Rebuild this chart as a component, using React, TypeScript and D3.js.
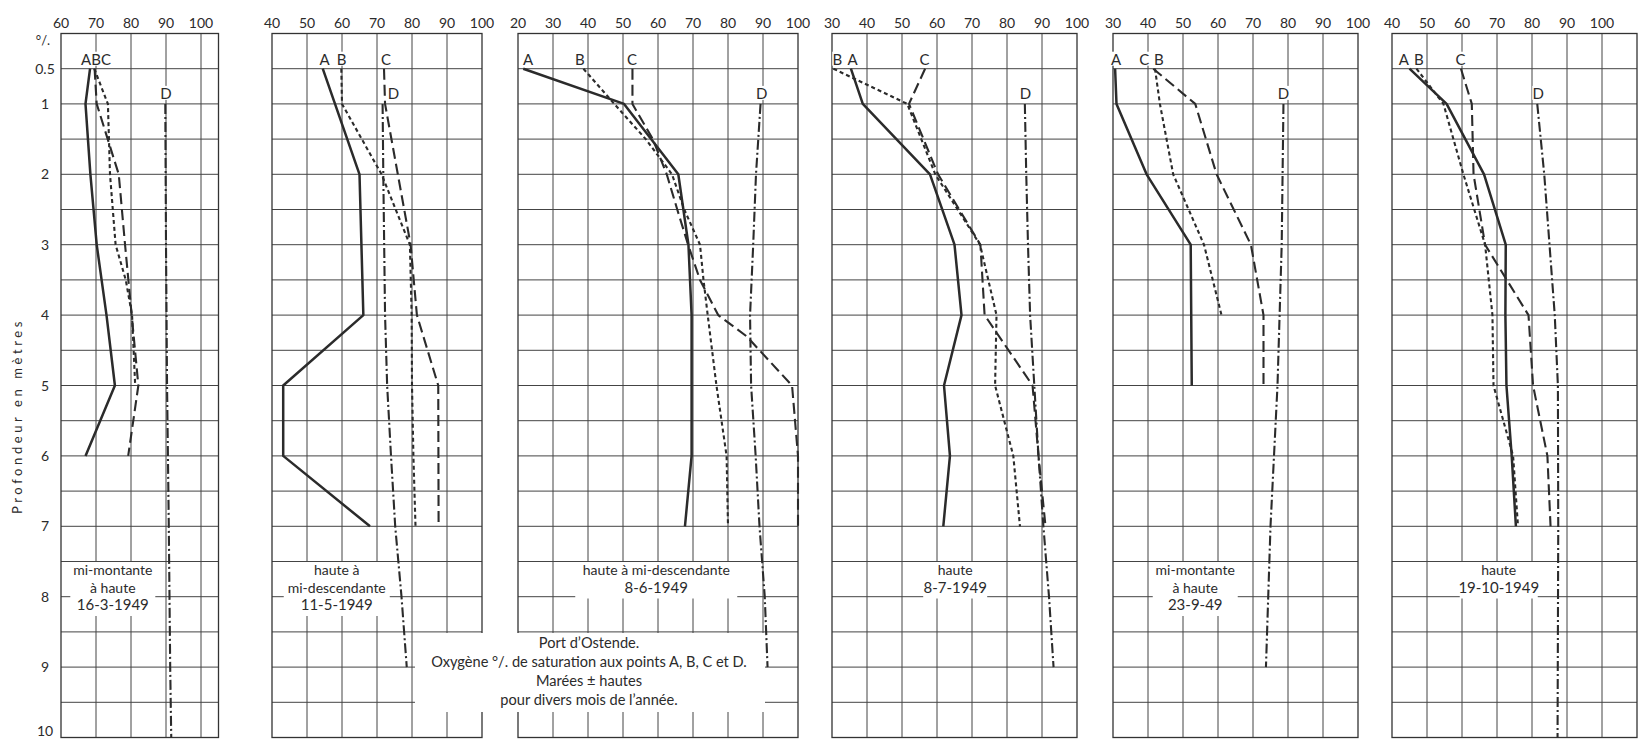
import React from 'react';
import * as d3 from 'd3';

type Pt = [number, number]; // [depth m, oxygen %]

// ---------- data ----------
const depthLabels = ['0.5', '1', '2', '3', '4', '5', '6', '7', '8', '9', '10'];
const depthLabelValues = [0.5, 1, 2, 3, 4, 5, 6, 7, 8, 9, 10];
const xTickValues = [20, 30, 40, 50, 60, 70, 80, 90, 100];

// panel value ranges [min, max]
const panelRanges: [number, number][] = [[60, 105], [40, 100], [20, 100], [30, 100], [30, 100], [40, 110]];

// 16-3-1949
const p1A: Pt[] = [[0.5, 68.3], [1, 67], [2, 68.4], [3, 70.2], [4, 73], [5, 75.4], [6, 67]];
const p1B: Pt[] = [[0.5, 69.5], [1, 73.4], [2, 74], [3, 75.6], [3.5, 78.5], [4, 80.3], [5, 81.2]];
const p1C: Pt[] = [[0.5, 69.6], [1, 70.2], [2, 76.5], [3, 78.3], [4, 80.2], [5, 82.1], [6, 79.2]];
const p1D: Pt[] = [[1, 89.8], [3, 90], [5, 90.3], [7, 90.8], [9, 91.2], [10, 91.5]];
// 11-5-1949
const p2A: Pt[] = [[0.5, 54.5], [2, 65], [4, 66.1], [5, 43.2], [6, 43.2], [7, 68]];
const p2B: Pt[] = [[0.5, 59.8], [1, 60], [2, 71.3], [3, 79.4], [4, 79.9], [5, 80], [6, 80.4], [7, 81]];
const p2C: Pt[] = [[0.5, 72], [1, 72.3], [3, 79.6], [4, 81.4], [5, 87.5], [7, 87.6]];
const p2D: Pt[] = [[1, 71.6], [2, 71.8], [4, 72.3], [5, 72.9], [6, 74], [7, 75.2], [8, 77], [9, 78.5]];
// 8-6-1949
const p3A: Pt[] = [[0.5, 21.5], [1, 50.3], [2, 65.8], [3, 68.7], [4, 69.6], [6, 69.6], [7, 67.7]];
const p3B: Pt[] = [[0.5, 38.7], [1, 47.5], [1.5, 56.5], [2, 64], [2.5, 67.5], [3, 72], [3.5, 73], [4, 74.2], [5, 76.7], [6, 79.6], [7, 80]];
const p3C: Pt[] = [[0.5, 52.7], [1, 52.7], [1.5, 58.5], [2, 62.5], [2.5, 65.5], [3, 68.6], [3.5, 72], [4, 77.2], [4.3, 85.3], [5, 98.3], [6, 100], [7, 100]];
const p3D: Pt[] = [[1, 89.3], [2, 88], [3, 87.2], [4, 86.3], [5, 86.6], [6, 87.9], [7, 89], [8, 90.5], [9, 91.3]];
// 8-7-1949
const p4A: Pt[] = [[0.5, 35.4], [1, 38.8], [2, 58], [3, 65], [4, 67], [5, 62], [6, 63.7], [7, 61.8]];
const p4B: Pt[] = [[0.5, 30.4], [1, 51.5], [2, 59.5], [3, 72.3], [4, 77], [5, 76.6], [6, 81.8], [7, 83.7]];
const p4C: Pt[] = [[0.5, 56.6], [1, 52], [2, 60.3], [3, 72.4], [4, 73.6], [5, 87.3], [6, 89], [7, 91]];
const p4D: Pt[] = [[1, 85.1], [2, 85.5], [3, 86], [4, 86.6], [5, 87.8], [6, 89], [7, 90.4], [8, 92], [9, 93.3]];
// 23-9-49
const p5A: Pt[] = [[0.5, 30.6], [1, 31], [2, 39.6], [3, 52.2], [5, 52.5]];
const p5B: Pt[] = [[0.5, 42], [1, 43.4], [2, 47.2], [3, 56], [4, 61]];
const p5C: Pt[] = [[0.5, 41.5], [1, 53.5], [2, 59.6], [3, 69.4], [4, 73], [5, 73]];
const p5D: Pt[] = [[1, 78.7], [3, 78.2], [5, 77], [7, 75], [9, 73.7]];
// 19-10-1949
const p6A: Pt[] = [[0.5, 45], [1, 55.6], [2, 66.3], [3, 72.5], [4, 72.4], [5, 72.7], [6, 74.2], [7, 75.4]];
const p6B: Pt[] = [[0.5, 47], [1, 54.7], [2, 60.4], [3, 66.6], [4, 68.7], [5, 69], [6, 74.6], [7, 76]];
const p6C: Pt[] = [[0.5, 59.7], [1, 62.8], [2, 63.3], [3, 66.6], [4, 79], [5, 80.3], [6, 84.4], [7, 85.3]];
const p6D: Pt[] = [[1, 81.5], [2, 83.5], [3, 85], [4, 86.5], [5, 87.4], [7, 87.5], [10, 87.3]];

const seriesA = [p1A, p2A, p3A, p4A, p5A, p6A];
const seriesB = [p1B, p2B, p3B, p4B, p5B, p6B];
const seriesC = [p1C, p2C, p3C, p4C, p5C, p6C];
const seriesD = [p1D, p2D, p3D, p4D, p5D, p6D];

// point labels: [text, value] on the top row; D label value on second row
const topLabels: [string, number][][] = [
  [['ABC', 70]],
  [['A', 55], ['B', 59.9], ['C', 72.6]],
  [['A', 22.9], ['B', 37.7], ['C', 52.6]],
  [['B', 31.5], ['A', 35.9], ['C', 56.4]],
  [['A', 30.9], ['C', 38.9], ['B', 43.1]],
  [['A', 43.4], ['B', 47.7], ['C', 59.6]],
];
const dLabelValues = [90, 74.7, 89.6, 85.3, 78.7, 81.8];

const tideTexts: string[][] = [
  ['mi-montante', 'à haute', '16-3-1949'],
  ['haute à', 'mi-descendante', '11-5-1949'],
  ['haute à mi-descendante', '8-6-1949'],
  ['haute', '8-7-1949'],
  ['mi-montante', 'à haute', '23-9-49'],
  ['haute', '19-10-1949'],
];
const tideCenterValues = [74.8, 58.5, 59.5, 65.2, 53.5, 70.5];

const captionLines = [
  'Port d\u2019Ostende.',
  'Oxygène °/. de saturation aux points A, B, C et D.',
  'Marées ± hautes',
  'pour divers mois de l\u2019année.',
];

// ---------- layout ----------
const W = 1640;
const H = 741;
const PX_PER_UNIT = 3.5;
const panelLefts = [61, 272, 518, 832, 1113, 1392];
const FONT = 'Lato, "Open Sans", sans-serif';
const INK = '#2b2b2b';

const y = d3.scaleLinear().domain([0, 10]).range([33.5, 737.5]);

const styles = {
  A: { dash: undefined as string | undefined, width: 2.5 },
  B: { dash: '4,3', width: 2.1 },
  C: { dash: '11,5', width: 2.1 },
  D: { dash: '10,3,2,3', width: 2.1 },
};

function Panel({ i }: { i: number }) {
  const [mn, mx] = panelRanges[i];
  const left = panelLefts[i];
  const x = d3.scaleLinear().domain([mn, mx]).range([left, left + (mx - mn) * PX_PER_UNIT]);
  const line = d3
    .line<Pt>()
    .x((p) => x(p[1]))
    .y((p) => y(p[0]));
  const vLines = xTickValues.filter((v) => v > mn && v < mx);
  const hLines = d3.range(1, 20).map((k) => k * 0.5);
  const ticks = xTickValues.filter((v) => v >= mn && v <= Math.min(mx, 100));

  const tide = tideTexts[i];
  const tFs = 14;
  const tBase0 = 575;
  const tStep = 17.5;
  const tW = d3.max(tide, (s) => s.length)! * tFs * 0.5 + 8;
  const tx = x(tideCenterValues[i]);
  const tTop = tBase0 - 13;
  const tBot = tBase0 + (tide.length - 1) * tStep + 6;

  const series: [Pt[], keyof typeof styles][] = [
    [seriesD[i], 'D'],
    [seriesC[i], 'C'],
    [seriesB[i], 'B'],
    [seriesA[i], 'A'],
  ];

  return (
    <g>
      {/* grid */}
      {vLines.map((v) => (
        <line key={'v' + v} x1={x(v)} x2={x(v)} y1={y(0)} y2={y(10)} stroke="#444" strokeWidth={1} />
      ))}
      {hLines.map((d) => (
        <line key={'h' + d} x1={x(mn)} x2={x(mx)} y1={y(d)} y2={y(d)} stroke="#444" strokeWidth={1} />
      ))}
      <rect x={x(mn)} y={y(0)} width={x(mx) - x(mn)} height={y(10) - y(0)} fill="none" stroke="#333" strokeWidth={1.3} />
      {/* tick labels */}
      {ticks.map((v) => (
        <text key={'t' + v} x={x(v)} y={28} textAnchor="middle" fontSize={14} fill={INK} fontFamily={FONT}>
          {v}
        </text>
      ))}
      {/* tide box */}
      <rect x={tx - tW / 2} y={tTop} width={tW} height={tBot - tTop} fill="#fff" />
      {/* curves */}
      {series.map(([data, k]) => (
        <path
          key={k}
          d={line(data) || ''}
          fill="none"
          stroke={INK}
          strokeWidth={styles[k].width}
          strokeDasharray={styles[k].dash}
          strokeLinejoin="round"
        />
      ))}
      {/* point labels */}
      {topLabels[i].map(([t, v]) => (
        <g key={'l' + t}>
          <rect x={x(v) - t.length * 5} y={y(0.5) - 17} width={t.length * 10} height={14} fill="#fff" />
          <text x={x(v)} y={y(0.5) - 4} textAnchor="middle" fontSize={15} fill={INK} fontFamily={FONT}>
            {t}
          </text>
        </g>
      ))}
      <rect x={x(dLabelValues[i]) - 6} y={y(1) - 18} width={12} height={14} fill="#fff" />
      <text x={x(dLabelValues[i])} y={y(1) - 5} textAnchor="middle" fontSize={15} fill={INK} fontFamily={FONT}>
        D
      </text>
      {tide.map((s, k) => (
        <text
          key={'tt' + k}
          x={tx}
          y={tBase0 + k * tStep}
          textAnchor="middle"
          fontSize={k === tide.length - 1 ? 15 : tFs}
          fill={INK}
          fontFamily={FONT}
        >
          {s}
        </text>
      ))}
    </g>
  );
}

export default function App() {
  const capCx = 589;
  const capBase = 648;
  const capStep = 19;
  return (
    <svg width={W} height={H} style={{ position: 'absolute', left: 0, top: 0, background: '#fff' }}>
      <rect x={0} y={0} width={W} height={H} fill="#fff" />
      {panelRanges.map((_, i) => (
        <Panel key={i} i={i} />
      ))}
      {/* depth axis */}
      {depthLabelValues.map((d, k) => (
        <text
          key={'d' + d}
          x={45}
          y={Math.min(y(d) + 5, 736)}
          textAnchor="middle"
          fontSize={14}
          fill={INK}
          fontFamily={FONT}
        >
          {depthLabels[k]}
        </text>
      ))}
      <text x={43} y={45} textAnchor="middle" fontSize={13} fill={INK} fontFamily={FONT}>
        °/.
      </text>
      <text
        transform={`translate(22,416) rotate(-90)`}
        textAnchor="middle"
        fontSize={13}
        letterSpacing={3.6}
        fill={INK}
        fontFamily={FONT}
      >
        Profondeur en mètres
      </text>
      {/* caption */}
      <rect x={415} y={capBase - 15} width={350} height={capStep * 3 + 22} fill="#fff" />
      {captionLines.map((s, k) => (
        <text
          key={'c' + k}
          x={capCx}
          y={capBase + k * capStep}
          textAnchor="middle"
          fontSize={14.6}
          fill={INK}
          fontFamily={FONT}
        >
          {s}
        </text>
      ))}
    </svg>
  );
}
